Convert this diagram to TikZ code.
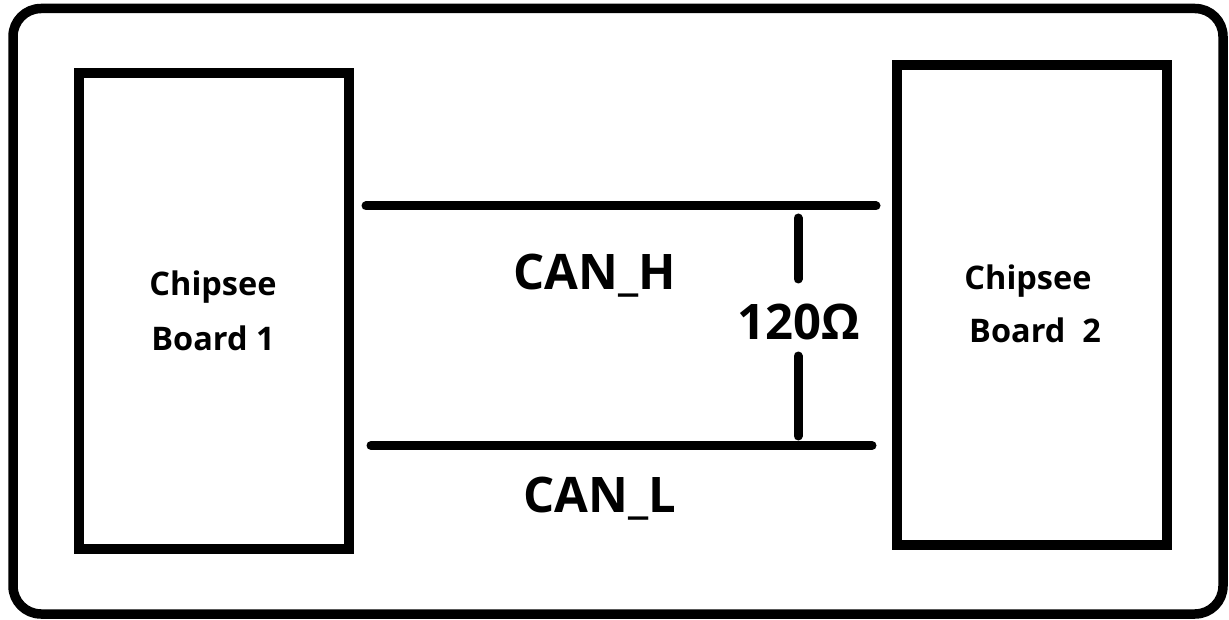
\documentclass[tikz,border=0pt]{standalone}
\usepackage{fontspec}
\setmainfont{Open Sans}
\tikzset{
  frame/.style={draw=black, line width=9.5pt, rounded corners=28pt},
  board/.style={draw=black, line width=10pt, rectangle, inner sep=0pt},
  wire/.style={draw=black, line width=9pt, line cap=round},
  big/.style={font=\fontsize{49}{52}\selectfont\bfseries, anchor=base, inner sep=0pt},
  small/.style={font=\fontsize{32.5}{36}\selectfont\bfseries, anchor=base, inner sep=0pt},
}
\begin{document}
\begin{tikzpicture}[x=1pt,y=-1pt]
\useasboundingbox[fill=white] (0,0) rectangle (1229,620);
\draw[frame] (13,8.5) rectangle (1223,614);
\node[board, minimum width=270pt, minimum height=476pt] (b1) at (214,311) {};
\node[board, minimum width=270pt, minimum height=480pt] (b2) at (1032,305) {};
\node[small] (b1a) at (213,296) {Chipsee};
\node[small] (b1b) at (213,350) {Board 1};
\node[small] (b2a) at (1028,290) {Chipsee};
\node[small] (b2b) at (1035,342) {Board\ \ 2};
\coordinate (h1) at (366,206);
\coordinate (h2) at (876,206);
\coordinate (l1) at (371,445.5);
\coordinate (l2) at (872,445.5);
\draw[wire] (h1) -- (h2);
\draw[wire] (l1) -- (l2);
\node[big] (canh) at (595,290) {CAN\_H};
\node[big] (canl) at (600,512) {CAN\_L};
\node[big] (res) at (799,340) {120Ω};
\coordinate (rt) at (798,218);
\coordinate (rt2) at (798,279);
\coordinate (rb2) at (798,356);
\coordinate (rb) at (798,436);
\draw[wire] (rt) -- (rt2);
\draw[wire] (rb2) -- (rb);
\end{tikzpicture}
\end{document}
